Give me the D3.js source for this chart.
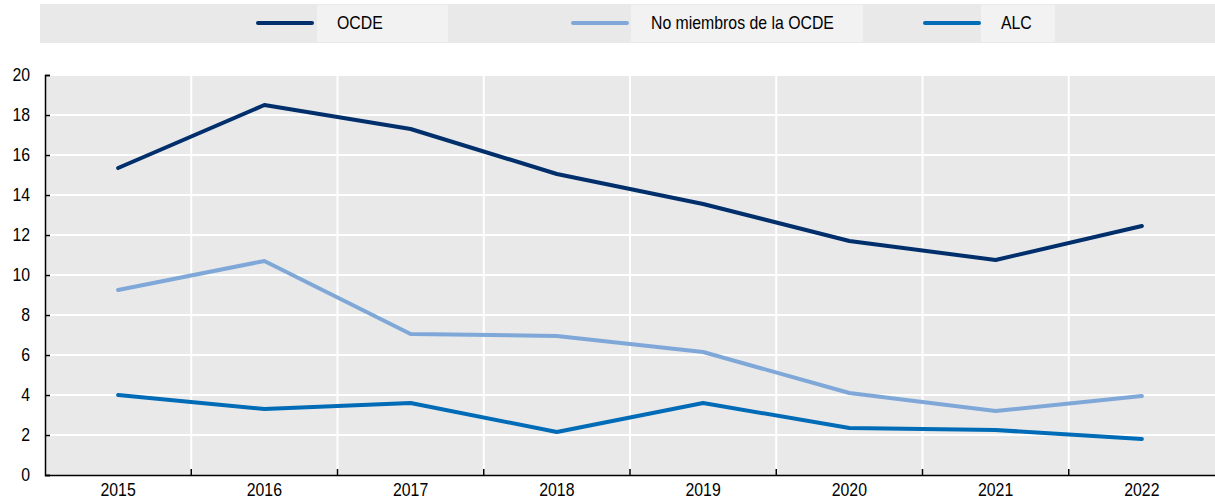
<!DOCTYPE html>
<html>
<head>
<meta charset="utf-8">
<script src="https://cdn.jsdelivr.net/npm/d3@7"></script>
<style>
  body { margin: 0; background: #fff; }
  svg text { font-family: "Liberation Sans Narrow", "Arial Narrow", "Liberation Sans", sans-serif; fill: #000; }
</style>
</head>
<body>
<svg id="chart"></svg>
<script>
// values
const years = ['2015', '2016', '2017', '2018', '2019', '2020', '2021', '2022'];
const seriesNames = ['OCDE', 'No miembros de la OCDE', 'ALC'];
const ocde = [15.35, 18.5, 17.3, 15.05, 13.55, 11.7, 10.75, 12.45];
const noMiembros = [9.25, 10.7, 7.05, 6.95, 6.15, 4.1, 3.2, 3.95];
const alc = [4.0, 3.3, 3.6, 2.15, 3.6, 2.35, 2.25, 1.8];
const yTicks = [0, 2, 4, 6, 8, 10, 12, 14, 16, 18, 20];

const colors = ['#002f6c', '#7fa8d9', '#006bb6'];
const allSeries = [ocde, noMiembros, alc];

const W = 1215, H = 504;
const margin = {top: 75, right: 0, bottom: 29, left: 45};
const squeeze = 0.88; // narrow look for the text

const svg = d3.select('#chart').attr('width', W).attr('height', H);

const x = d3.scaleBand()
  .domain(years)
  .range([margin.left, W - margin.right]);

const y = d3.scaleLinear()
  .domain([0, 20])
  .range([H - margin.bottom, margin.top]);

// plot background
svg.append('rect')
  .attr('x', margin.left)
  .attr('y', margin.top)
  .attr('width', W - margin.left - margin.right)
  .attr('height', H - margin.top - margin.bottom)
  .attr('fill', '#e9e9e9');

// horizontal grid
svg.append('g')
  .selectAll('line')
  .data(yTicks.filter(d => d > 0))
  .enter().append('line')
  .attr('x1', margin.left)
  .attr('x2', W - margin.right)
  .attr('y1', d => y(d))
  .attr('y2', d => y(d))
  .attr('stroke', '#fff')
  .attr('stroke-width', 2);

// vertical grid at category boundaries
const bounds = years.slice(1).map(d => x(d));
svg.append('g')
  .selectAll('line')
  .data(bounds)
  .enter().append('line')
  .attr('x1', d => d)
  .attr('x2', d => d)
  .attr('y1', margin.top)
  .attr('y2', H - margin.bottom)
  .attr('stroke', '#fff')
  .attr('stroke-width', 2);

// y axis
const yAxis = svg.append('g')
  .attr('transform', 'translate(' + margin.left + ',0)')
  .call(d3.axisLeft(y).tickValues(yTicks).tickSize(-5).tickPadding(17).tickFormat(d3.format('d')));
yAxis.select('.domain').attr('stroke', '#000').attr('stroke-width', 1.5);
yAxis.selectAll('.tick line').attr('stroke', '#000').attr('stroke-width', 1.5);
yAxis.selectAll('text')
  .attr('font-size', 18)
  .attr('transform', 'scale(' + squeeze + ',1)')
  .style('fill', '#000');

// x axis
const xAxis = svg.append('g')
  .attr('transform', 'translate(0,' + (H - margin.bottom) + ')')
  .call(d3.axisBottom(x).tickSize(0).tickPadding(8));
xAxis.select('.domain').attr('stroke', '#000').attr('stroke-width', 1.5);
xAxis.selectAll('text')
  .attr('font-size', 18)
  .attr('transform', 'scale(' + squeeze + ',1)')
  .style('fill', '#000');

svg.append('g')
  .selectAll('line')
  .data(bounds)
  .enter().append('line')
  .attr('x1', d => d)
  .attr('x2', d => d)
  .attr('y1', H - margin.bottom)
  .attr('y2', H - margin.bottom - 6)
  .attr('stroke', '#000')
  .attr('stroke-width', 1.5);

// lines
const line = d3.line()
  .x((d, i) => x(years[i]) + x.bandwidth() / 2)
  .y(d => y(d));

svg.append('g')
  .selectAll('path')
  .data(allSeries)
  .enter().append('path')
  .attr('d', d => line(d))
  .attr('fill', 'none')
  .attr('stroke', (d, i) => colors[i])
  .attr('stroke-width', 4)
  .attr('stroke-linejoin', 'round')
  .attr('stroke-linecap', 'round');

// legend
const legend = svg.append('g');
legend.append('rect')
  .attr('x', 40).attr('y', 4)
  .attr('width', W - 40).attr('height', 39)
  .attr('fill', '#e9e9e9');

const legendItems = [
  {lx: 258, bx: 317, bw: 131},
  {lx: 573, bx: 631, bw: 232},
  {lx: 925, bx: 981, bw: 74}
];

const li = legend.selectAll('g.item')
  .data(seriesNames)
  .enter().append('g')
  .attr('class', 'item');

li.append('rect')
  .attr('x', (d, i) => legendItems[i].bx)
  .attr('y', 5)
  .attr('width', (d, i) => legendItems[i].bw)
  .attr('height', 37)
  .attr('fill', '#f2f2f2');

li.append('line')
  .attr('x1', (d, i) => legendItems[i].lx)
  .attr('x2', (d, i) => legendItems[i].lx + 54)
  .attr('y1', 23)
  .attr('y2', 23)
  .attr('stroke', (d, i) => colors[i])
  .attr('stroke-width', 4)
  .attr('stroke-linecap', 'round');

li.append('text')
  .attr('x', (d, i) => (legendItems[i].bx + 20) / squeeze)
  .attr('y', 29)
  .attr('font-size', 18)
  .attr('transform', 'scale(' + squeeze + ',1)')
  .text(d => d);
</script>
</body>
</html>
